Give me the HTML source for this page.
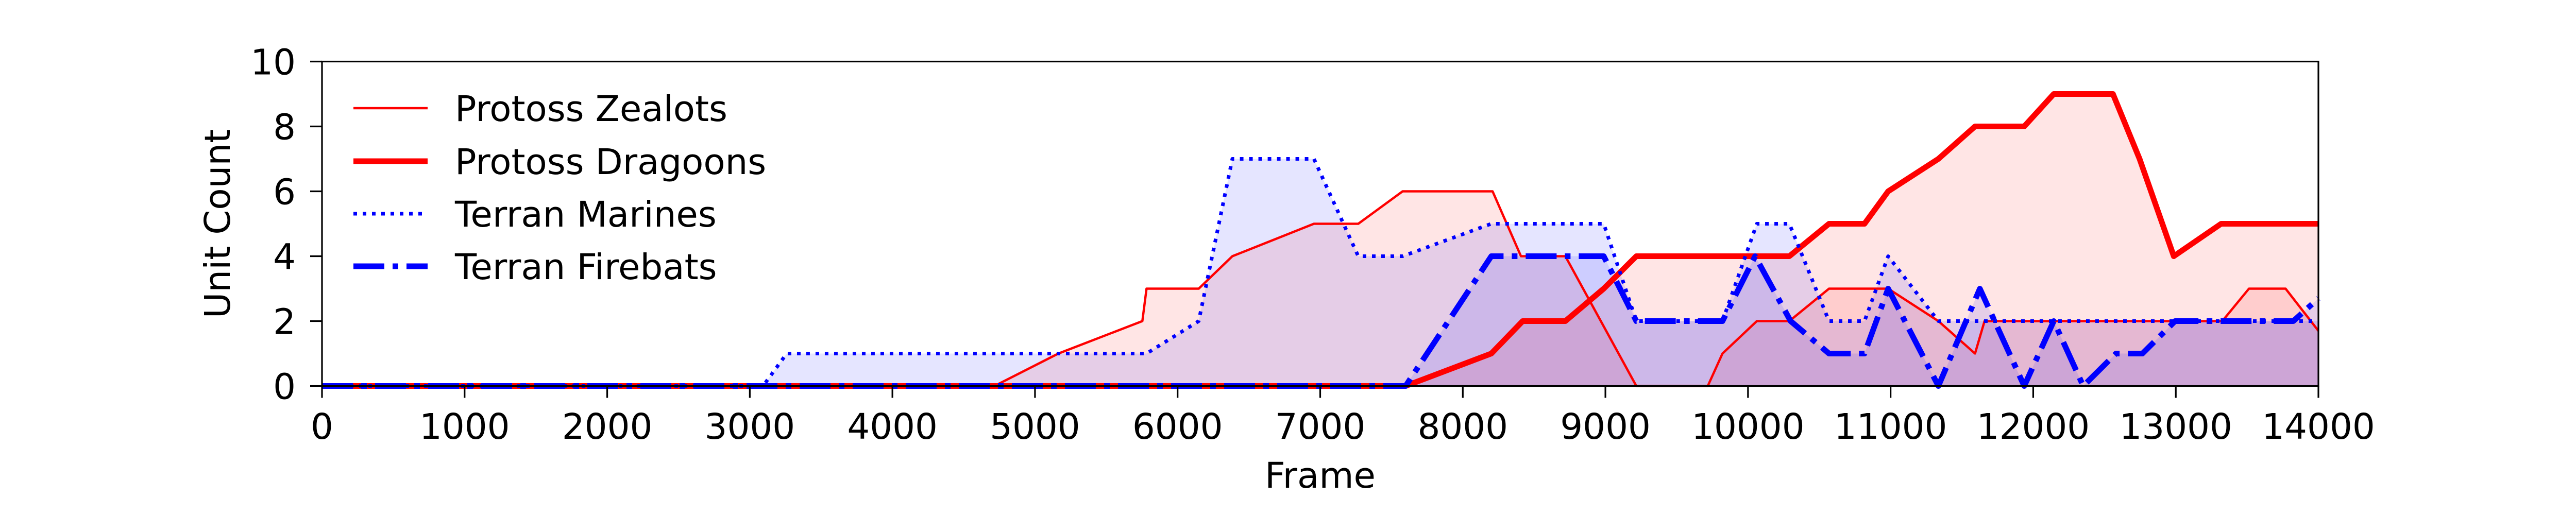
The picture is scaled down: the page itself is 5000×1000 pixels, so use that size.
<!DOCTYPE html>
<html><head><meta charset="utf-8"><style>
html,body{margin:0;padding:0;background:#fff;}
svg{display:block;font-family:"DejaVu Sans","Liberation Sans",sans-serif;}
</style></head><body>
<svg id="chart" width="5000" height="1000" viewBox="0 0 5000 1000" xmlns="http://www.w3.org/2000/svg">
<rect width="5000" height="1000" fill="#fff"/>
<g id="fills"></g><g id="lines"></g><g id="axes"></g><g id="legend"></g>
</svg>
<script>
const xTicks=[0,1000,2000,3000,4000,5000,6000,7000,8000,9000,10000,11000,12000,13000,14000];
const yTicks=[0,2,4,6,8,10];
const zealotFrames=[0,4716,5164,5753,5782,6148,6384,6956,7267,7578,8209,8408,8719,9217,9718,9821,10062,10290,10568,10983,11335,11592,11659,13326,13513,13770,14000];
const zealotValues=[0,0,1,2,3,3,4,5,5,6,6,4,4,0,0,1,2,2,3,3,2,1,2,2,3,3,1.7];
const dragoonFrames=[0,7599,8200,8420,8719,8988,9217,10290,10568,10817,10983,11335,11592,11937,12144,12559,12746,12986,13318,14000];
const dragoonValues=[0,0,1,2,2,3,4,4,5,5,6,7,8,8,9,9,7,4,5,5];
const marineFrames=[0,3093,3259,5782,6148,6384,6956,7267,7578,8200,8988,9217,9821,10062,10290,10568,10817,10983,11335,14000];
const marineValues=[0,0,1,1,2,7,7,4,4,5,5,2,2,5,5,2,2,4,2,2];
const firebatFrames=[0,7599,8200,8988,9217,9821,10050,10299,10568,10817,10983,11335,11626,11937,12144,12351,12580,12766,12995,13824,14000];
const firebatValues=[0,0,4,4,2,2,4,2,1,1,3,0,3,0,2,0,1,1,2,2,2.7];

const L=625,R=4500,T=119.5,B=749.5,XMAX=14000,YMAX=10;
const sx=f=>L+f*(R-L)/XMAX;
const sy=v=>B-v*(B-T)/YMAX;
const NS="http://www.w3.org/2000/svg";
function mk(tag,attrs,parent){const e=document.createElementNS(NS,tag);for(const k in attrs)e.setAttribute(k,attrs[k]);parent.appendChild(e);return e;}
const fills=document.getElementById('fills'),lines=document.getElementById('lines'),axes=document.getElementById('axes'),legend=document.getElementById('legend');
const FS=69;

const series=[
 {name:'zealots',label:'Protoss Zealots',f:zealotFrames,v:zealotValues,color:'#ff0000',w:4.5,dash:''},
 {name:'dragoons',label:'Protoss Dragoons',f:dragoonFrames,v:dragoonValues,color:'#ff0000',w:11,dash:''},
 {name:'marines',label:'Terran Marines',f:marineFrames,v:marineValues,color:'#0000ff',w:7,dash:'7 11'},
 {name:'firebats',label:'Terran Firebats',f:firebatFrames,v:firebatValues,color:'#0000ff',w:11,dash:'60 16 11 16'}
];
series.forEach(s=>{
  const pts=s.f.map((f,i)=>sx(f).toFixed(1)+','+sy(s.v[i]).toFixed(1));
  const poly=[sx(s.f[0]).toFixed(1)+','+sy(0)].concat(pts,[sx(s.f[s.f.length-1]).toFixed(1)+','+sy(0)]);
  const fe=mk('polygon',{points:poly.join(' '),fill:s.color,'fill-opacity':0.1,stroke:'none'},fills);
  
  
  const le=mk('polyline',{points:pts.join(' '),fill:'none',stroke:s.color,'stroke-width':s.w,'stroke-dasharray':s.dash,'stroke-linejoin':'round'},lines);
  
  
});

const frame=mk('rect',{x:L,y:T,width:R-L,height:B-T,fill:'none',stroke:'#000','stroke-width':3.2},axes);


xTicks.forEach(t=>{
  const x=sx(t);
  const tk=mk('line',{x1:x,x2:x,y1:B,y2:B+23,stroke:'#000','stroke-width':3.2},axes);
  
  
  const tx=mk('text',{x:x,y:852,'text-anchor':'middle','font-size':FS},axes);
  tx.textContent=t;
  
  
});
yTicks.forEach(t=>{
  const y=sy(t);
  const tk=mk('line',{x1:L-23,x2:L,y1:y,y2:y,stroke:'#000','stroke-width':3.2},axes);
  
  
  const tx=mk('text',{x:574,y:y+25,'text-anchor':'end','font-size':FS},axes);
  tx.textContent=t;
  
  
});
const xt=mk('text',{x:(L+R)/2,y:947,'text-anchor':'middle','font-size':FS},axes);
xt.textContent='Frame';


const yt=mk('text',{x:0,y:0,'text-anchor':'middle','font-size':FS,transform:'translate(446,'+((T+B)/2)+') rotate(-90)'},axes);
yt.textContent='Unit Count';



const rowsY=[210,313,415,517];
series.forEach((s,i)=>{
  const g=mk('g',{},legend);
  
  
  mk('line',{x1:686,x2:830,y1:rowsY[i],y2:rowsY[i],stroke:s.color,'stroke-width':s.w,'stroke-dasharray':s.dash},g);
  const t=mk('text',{x:883,y:rowsY[i]+25,'font-size':FS},g);
  t.textContent=s.label;
});
</script>
</body></html>
